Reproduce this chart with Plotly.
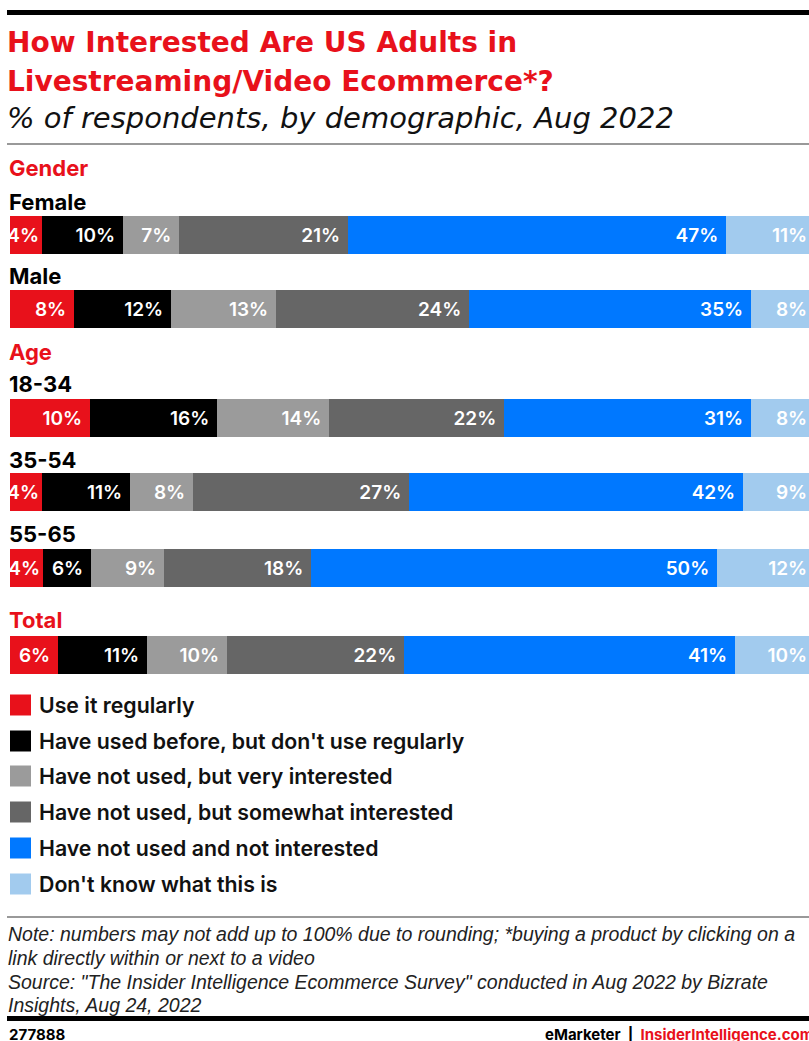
import plotly.graph_objects as go

# ---------------- data ----------------
ROWS = ["Female", "Male", "18-34", "35-54", "55-65", "Total"]
SERIES = [
    "Use it regularly",
    "Have used before, but don't use regularly",
    "Have not used, but very interested",
    "Have not used, but somewhat interested",
    "Have not used and not interested",
    "Don't know what this is",
]
use_regularly = [4, 8, 10, 4, 4, 6]
used_before = [10, 12, 16, 11, 6, 11]
very_interested = [7, 13, 14, 8, 9, 10]
somewhat_interested = [21, 24, 22, 27, 18, 22]
not_interested = [47, 35, 31, 42, 50, 41]
dont_know = [11, 8, 8, 9, 12, 10]
VALUES = [use_regularly, used_before, very_interested, somewhat_interested,
          not_interested, dont_know]

# ---------------- styles / layout constants ----------------
COLORS = ["#E8111B", "#000000", "#9B9B9B", "#666666", "#0078FF", "#A2CBEE"]
RED = "#E8111B"
W, H = 809, 1041
PLOT_L = 10
FULL_PX = 815          # pixel where 100% would end (chart is cropped on the right)
ROW_POS = [234.5, 309, 418, 492, 567.5, 654.5]   # row centres (pixel space of y axis)
BAR_H = 38
SANS = "Inter"


def ax(px):
    return (px - PLOT_L) / (W - PLOT_L)


def ay(py):
    return 1 - py / H


fig = go.Figure()
for name, vals, col in zip(SERIES, VALUES, COLORS):
    fig.add_trace(go.Bar(
        name=name,
        y=ROW_POS,
        x=vals,
        orientation="h",
        width=BAR_H,
        marker=dict(color=col, line=dict(width=0)),
        text=[f"{v}%" + ("\u00a0" if v >= 6 else "") for v in vals],
        texttemplate="%{text}",
        textposition="inside",
        insidetextanchor="end",
        textangle=0,
        textfont=dict(color="white", size=19, family=SANS, weight=600),
        showlegend=False,
        hoverinfo="name+x",
    ))

ann = []


def text(px, py, s, size, color="#000", family=SANS, weight=400, style="normal",
         xanchor="left"):
    ann.append(dict(
        x=ax(px), y=ay(py), xref="paper", yref="paper", text=s, showarrow=False,
        xanchor=xanchor, yanchor="middle", align="left",
        font=dict(size=size, color=color, family=family, weight=weight, style=style),
    ))


# title + subtitle
TITLE_FONT = "DejaVu Sans"
text(5, 43, "How Interested Are US Adults in", 28, RED, family=TITLE_FONT, weight=700)
text(5, 81, "Livestreaming/Video Ecommerce*?", 28, RED, family=TITLE_FONT, weight=700)
text(5, 118, "% of respondents, by demographic, Aug 2022", 29, "#111",
     family=TITLE_FONT, weight=300, style="italic")

# group + row labels
text(7, 168, "Gender", 22, RED, weight=700)
text(7, 352, "Age", 22, RED, weight=700)
text(7, 620, "Total", 22, RED, weight=700)
ROW_LABEL_PY = [202, 276, 384, 460, 534]
for lbl, py in zip(ROWS[:5], ROW_LABEL_PY):
    text(7, py, lbl, 22, "#000", weight=700)

# legend (drawn manually to match layout)
shapes = []
LEG_PY = [705, 741, 776, 812, 848, 884]
for name, col, py in zip(SERIES, COLORS, LEG_PY):
    shapes.append(dict(type="rect", xref="paper", yref="paper",
                       x0=ax(10), x1=ax(31), y0=ay(py - 10.5), y1=ay(py + 10.5),
                       fillcolor=col, line=dict(width=0)))
    text(37, py, name, 21.3, "#111", weight=600)

# rules
shapes.append(dict(type="line", xref="paper", yref="paper", x0=ax(7), x1=ax(W),
                   y0=ay(12.5), y1=ay(12.5), line=dict(color="#000", width=5)))
shapes.append(dict(type="line", xref="paper", yref="paper", x0=ax(7), x1=ax(W),
                   y0=ay(144), y1=ay(144), line=dict(color="#999", width=2)))
shapes.append(dict(type="line", xref="paper", yref="paper", x0=ax(7), x1=ax(W),
                   y0=ay(917), y1=ay(917), line=dict(color="#999", width=2)))
shapes.append(dict(type="line", xref="paper", yref="paper", x0=ax(7), x1=ax(W),
                   y0=ay(1018.5), y1=ay(1018.5), line=dict(color="#000", width=5)))

# notes
NOTE = [
    "Note: numbers may not add up to 100% due to rounding; *buying a product by clicking on a",
    "link directly within or next to a video",
    "Source: \"The Insider Intelligence Ecommerce Survey\" conducted in Aug 2022 by Bizrate",
    "Insights, Aug 24, 2022",
]
for s, py in zip(NOTE, [934, 958, 982, 1005]):
    text(6, py, s, 19.5, "#222", family="Liberation Sans", weight=400, style="italic")

# footer
text(7, 1034, "277888", 15, "#000", weight=700)
text(543, 1034, "eMarketer  |  <span style='color:%s'>InsiderIntelligence.com</span>" % RED,
     15, "#000", weight=700)

fig.update_layout(
    width=W, height=H,
    margin=dict(l=PLOT_L, r=0, t=0, b=0),
    paper_bgcolor="white", plot_bgcolor="white",
    barmode="stack", barnorm="percent",
    bargap=0,
    uniformtext=dict(minsize=19, mode="show"),
    xaxis=dict(visible=False, range=[0, 100 * (W - PLOT_L) / (FULL_PX - PLOT_L)],
               fixedrange=True),
    yaxis=dict(visible=False, range=[H, 0], fixedrange=True),
    annotations=ann,
    shapes=shapes,
    showlegend=False,
)

fig.write_html("out.html")
